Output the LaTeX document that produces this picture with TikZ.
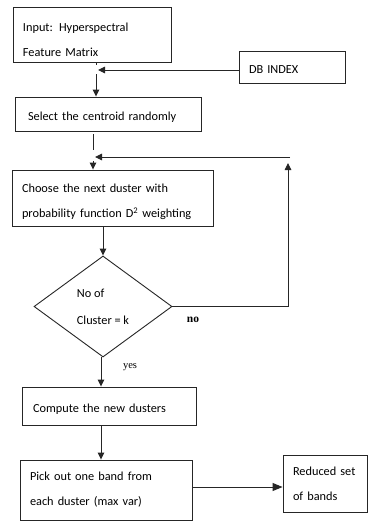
\documentclass[tikz,border=0pt]{standalone}
\usepackage{fontspec}
\setmainfont{Carlito}
\newfontfamily\serifl{Liberation Serif}
\usetikzlibrary{arrows.meta,shapes.geometric}
\newcommand{\myup}[1]{\rule{0pt}{#1pt}}
\begin{document}
\begin{tikzpicture}[x=1pt,y=-1pt,
  box/.style={draw=black!85, line width=0.9pt, rectangle, inner sep=0pt, align=left,
    font=\fontsize{12.3}{25}\selectfont},
  conn/.style={draw=black!85, line width=0.9pt},
  arr/.style={conn, -{Triangle[length=7pt,width=6.5pt]}},
  lbl/.style={font=\serifl\fontsize{10.5}{12}\selectfont, inner sep=0pt}]
\useasboundingbox[fill=white] (0,0) rectangle (368,522);

\node[box, minimum width=158pt, minimum height=55pt, text width=138pt] (in) at (92,34.5)
  {\myup{19}Input: Hyperspectral\\Feature Matrix};
\node[box, minimum width=106pt, minimum height=32pt, text width=86pt] (db) at (292,67)
  {\myup{13}DB INDEX};
\node[box, minimum width=186pt, minimum height=34pt, text width=160pt] (sel) at (108,114)
  {\myup{14}Select the centroid randomly};
\node[box, minimum width=201pt, minimum height=56pt, text width=181pt] (cho) at (112.5,198)
  {\myup{17}Choose the next duster with\\probability function D\textsuperscript{2} weighting};
\node[draw=black!85, line width=0.9pt, diamond, aspect=1.38, minimum width=138pt, minimum height=101pt,
  inner sep=0pt, align=left, font=\fontsize{12.3}{27}\selectfont] (dia) at (103,306.5)
  {No of\\Cluster = k};
\node[box, minimum width=174pt, minimum height=38pt, text width=152pt] (comp) at (109,406)
  {\myup{15}Compute the new dusters};
\node[box, minimum width=172pt, minimum height=60pt, text width=152pt] (pick) at (106,490)
  {Pick out one band from\\each duster (max var)};
\node[box, minimum width=84pt, minimum height=57pt, text width=64pt] (red) at (325,483.5)
  {\myup{10}Reduced set\\of bands};

\node[lbl, font=\serifl\bfseries\fontsize{11.5}{12}\selectfont] (no) at (193,320) {no};
\node[lbl] (yes) at (130,367) {yes};

% top junction
\coordinate (d1) at (96,62);
\coordinate (d2) at (96,64.5);
\draw[conn] (d1) -- (d2);
\coordinate (j1) at (98,70);
\draw[arr] (j1 -| db.west) -- (j1);
\coordinate (j1b) at (96,74);
\draw[arr] (j1b) -- (j1b |- sel.north);

% second junction
\coordinate (s1) at (93,134);
\coordinate (s2) at (93,150);
\draw[conn] (s1) -- (s2);
\coordinate (lt) at (290,157);
\coordinate (j2) at (95,157);
\draw[arr] (lt) -- (j2);
\coordinate (j2b) at (93,161);
\draw[arr] (j2b) -- (j2b |- cho.north);

% loop back
\coordinate (lp) at (288,163);
\draw[arr] (dia.east) -| (lp);

% main flow
\draw[arr] (dia.north |- cho.south) -- (dia.north);
\coordinate (b1) at (101,357);
\draw[arr] (b1) -- (b1 |- comp.north);
\coordinate (b2) at (101,425);
\draw[arr] (b2) -- (b2 |- pick.north);
\coordinate (p1) at (192,487);
\draw[conn, -{Triangle[length=10pt,width=8pt]}] (p1) -- (p1 -| red.west);
\end{tikzpicture}
\end{document}
